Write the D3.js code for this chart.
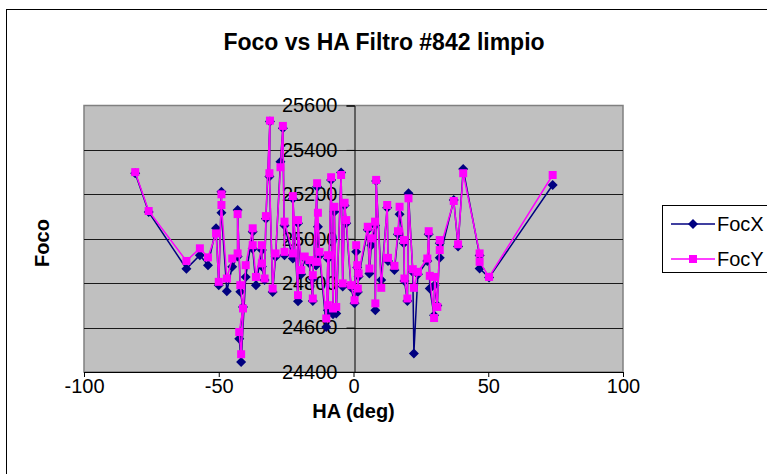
<!DOCTYPE html>
<html>
<head>
<meta charset="utf-8">
<script src="https://cdn.jsdelivr.net/npm/d3@7"></script>
<style>
  html, body { margin: 0; padding: 0; background: #fff; }
  svg { display: block; }
  text { font-family: "Liberation Sans", Arial, sans-serif; fill: #000; }
</style>
</head>
<body>
<svg id="chart" width="767" height="474"></svg>
<script>
// Hour angle of each exposure (deg)
const ha = [
  -81, -76, -62, -57, -54, -51, -50, -49, -49, -47,
  -45, -43, -43, -42, -41, -42.4, -41.7, -40, -37.4, -37.4,
  -36.2, -34, -34, -33, -32.5, -31, -31.2, -30, -28.9, -27.1,
  -26.2, -25.6, -25.6, -22.5, -22.5, -20.6, -20.6, -19.4, -18.1, -16.4,
  -15.1, -15.1, -13.5, -13.9, -13.2, -12.6, -10.1, -9.5, -9.5, -8.3,
  -7.6, -7.1, -6.4, -4.6, -4, -3.3, -2.7, -0.9, 0.4, 1,
  1.4, 1.6, 1.9, 5.3, 5.9, 6.6, 8, 8.1, 8.4, 10.3,
  12.5, 12.8, 15.2, 16.5, 17.1, 18.7, 18.9, 20, 20.4, 22,
  22.4, 23.9, 27.4, 27.9, 28.3, 29.9, 30.1, 31.1, 32, 32,
  37.2, 38.8, 40.7, 46.8, 46.8, 50.3, 73.9
];

// Best focus along X
const focX = [
  25295, 25120, 24865, 24926, 24881, 25047, 24791, 25212, 25117, 24764,
  24874, 24920, 25129, 24761, 24693, 24550, 24445, 24828, 25031, 24955,
  24791, 24949, 24875, 24814, 25090, 25528, 25280, 24760, 24919, 25347,
  25498, 24926, 25060, 24911, 25180, 24719, 25070, 24840, 24911, 24890,
  24720, 24820, 25234, 24880, 25054, 24925, 24603, 24910, 24678, 25265,
  24660, 25122, 24663, 25298, 24785, 25150, 25070, 24780, 24710, 24941,
  24870, 24760, 24830, 25040, 24844, 24971, 25060, 24678, 25260, 24814,
  25140, 24900, 24859, 25020, 25110, 24980, 24810, 24720, 25205, 24850,
  24483, 24840, 24900, 25020, 24776, 24655, 24791, 24700, 24980, 24914,
  25175, 24965, 25314, 24925, 24866, 24825, 25242
];

// Best focus along Y
const focY = [
  25300, 25125, 24900, 24957, 24916, 25024, 24806, 25200, 25152, 24821,
  24911, 24934, 25111, 24791, 24686, 24580, 24480, 24881, 25047, 24971,
  24828, 24971, 24889, 24821, 25102, 25532, 25295, 24776, 24934, 25322,
  25508, 24941, 25077, 24934, 25192, 24746, 25084, 24859, 24920, 24904,
  24731, 24836, 25250, 24896, 25117, 24941, 24641, 24926, 24701, 25277,
  24686, 25144, 24693, 25287, 24799, 25162, 25084, 24791, 24723, 24971,
  24881, 24776, 24844, 25054, 24866, 25002, 25077, 24709, 25265, 24779,
  25152, 24914, 24878, 25034, 25144, 24994, 24821, 24731, 25182, 24863,
  24779, 24851, 24911, 25034, 24833, 24643, 24828, 24693, 24994, 24949,
  25170, 24975, 25295, 24934, 24896, 24828, 25287
];

const xTicks = [-100, -50, 0, 50, 100];
const yTicks = [24400, 24600, 24800, 25000, 25200, 25400, 25600];
const seriesNames = ["FocX", "FocY"];
const seriesColors = ["#000080", "#FF00FF"];

const svg = d3.select("#chart");
const plot = { left: 84, right: 623, top: 105.5, bottom: 372 };

const x = d3.scaleLinear().domain([-100, 100]).range([plot.left, plot.right]);
const y = d3.scaleLinear().domain([24400, 25600]).range([plot.bottom, plot.top]);

// chart frame
svg.append("rect")
  .attr("x", 6.5).attr("y", 9.5)
  .attr("width", 800).attr("height", 500)
  .attr("fill", "#fff").attr("stroke", "#000").attr("stroke-width", 1);

// title
svg.append("text")
  .attr("x", 384).attr("y", 50)
  .attr("text-anchor", "middle")
  .attr("font-size", 23).attr("font-weight", "bold")
  .text("Foco vs HA Filtro #842 limpio");

// plot area
svg.append("rect")
  .attr("x", plot.left).attr("y", plot.top)
  .attr("width", plot.right - plot.left).attr("height", plot.bottom - plot.top)
  .attr("fill", "#C0C0C0").attr("stroke", "#808080").attr("stroke-width", 1.5);

// horizontal gridlines
svg.append("g")
  .selectAll("line")
  .data(yTicks.slice(1, -1))
  .join("line")
  .attr("x1", plot.left).attr("x2", plot.right)
  .attr("y1", d => Math.round(y(d)) + 0.5).attr("y2", d => Math.round(y(d)) + 0.5)
  .attr("stroke", "#1a1a1a").attr("stroke-width", 1);

const plain = d => String(d);

// x axis along the bottom
const xAxis = d3.axisBottom(x).tickValues(xTicks).tickFormat(plain).tickSize(5).tickPadding(2);
svg.append("g")
  .attr("transform", `translate(0,${plot.bottom})`)
  .call(xAxis)
  .call(g => g.select(".domain").attr("stroke", "#000"))
  .call(g => g.selectAll(".tick line").attr("stroke", "#000"))
  .call(g => g.selectAll(".tick text")
    .attr("font-size", 20).attr("font-family", "Liberation Sans, Arial, sans-serif").attr("fill", "#000"));

// y axis crossing at HA = 0
const yAxis = d3.axisLeft(y).tickValues(yTicks).tickFormat(plain).tickSize(8).tickPadding(9);
svg.append("g")
  .attr("transform", `translate(${Math.round(x(0)) + 0.5},0)`)
  .call(yAxis)
  .call(g => g.select(".domain").attr("stroke", "#000"))
  .call(g => g.selectAll(".tick line").attr("stroke", "#000"))
  .call(g => g.selectAll(".tick text")
    .attr("font-size", 20).attr("font-family", "Liberation Sans, Arial, sans-serif").attr("fill", "#000"));

// axis titles
svg.append("text")
  .attr("x", (plot.left + plot.right) / 2).attr("y", 418)
  .attr("text-anchor", "middle")
  .attr("font-size", 20).attr("font-weight", "bold")
  .text("HA (deg)");

svg.append("text")
  .attr("transform", "translate(49,243) rotate(-90)")
  .attr("text-anchor", "middle")
  .attr("font-size", 20).attr("font-weight", "bold")
  .text("Foco");

// markers
const diamond = r => `M0,${-r}L${r},0L0,${r}L${-r},0Z`;
const square = h => `M${-h},${-h}H${h}V${h}H${-h}Z`;
const markerPaths = [diamond(5), square(4)];

const series = [focX, focY];
const line = d3.line().x(d => x(d[0])).y(d => y(d[1]));

series.forEach((vals, i) => {
  const pts = ha.map((h, j) => [h, vals[j]]);
  const g = svg.append("g");
  g.append("path")
    .attr("d", line(pts))
    .attr("fill", "none")
    .attr("stroke", seriesColors[i])
    .attr("stroke-width", 1.5);
  g.selectAll("path.m")
    .data(pts)
    .join("path")
    .attr("class", "m")
    .attr("transform", d => `translate(${x(d[0])},${y(d[1])})`)
    .attr("d", markerPaths[i])
    .attr("fill", seriesColors[i]);
});

// legend
const leg = svg.append("g");
leg.append("rect")
  .attr("x", 662.5).attr("y", 205.5)
  .attr("width", 130).attr("height", 67)
  .attr("fill", "#fff").attr("stroke", "#000").attr("stroke-width", 1);
seriesNames.forEach((name, i) => {
  const ly = 224 + i * 35;
  leg.append("line")
    .attr("x1", 671).attr("x2", 715)
    .attr("y1", ly).attr("y2", ly)
    .attr("stroke", seriesColors[i]).attr("stroke-width", 1.3);
  leg.append("path")
    .attr("transform", `translate(693,${ly})`)
    .attr("d", markerPaths[i])
    .attr("fill", seriesColors[i]);
  leg.append("text")
    .attr("x", 717).attr("y", ly + 7)
    .attr("font-size", 20)
    .text(name);
});
</script>
</body>
</html>
